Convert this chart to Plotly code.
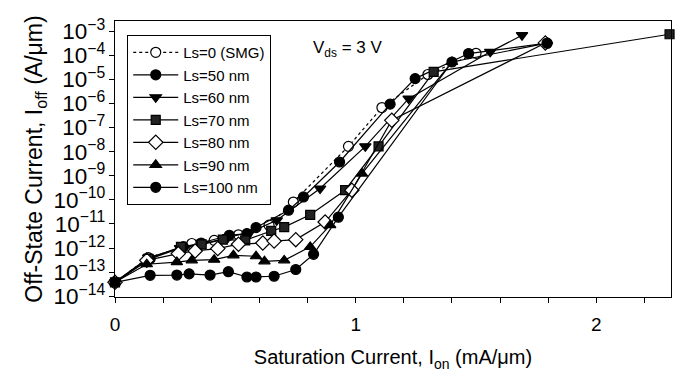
import plotly.graph_objects as go

# ---- data (x: Ion in mA/um, y: log10 of Ioff in A/um) ----
smg_x = [0, 0.138, 0.284, 0.319, 0.412, 0.513, 0.640, 0.741, 0.970, 1.109, 1.300, 1.500]
smg_y = [-13.42, -12.40, -11.95, -11.81, -11.68, -11.45, -11.05, -10.09, -7.78, -6.17, -4.80, -3.92]

ls50_x = [0, 0.146, 0.284, 0.358, 0.475, 0.548, 0.586, 0.721, 0.783, 0.933, 1.143, 1.247, 1.469, 1.795]
ls50_y = [-13.42, -12.45, -11.95, -11.79, -11.47, -11.40, -11.15, -10.43, -9.88, -8.43, -6.03, -4.97, -3.93, -3.50]

ls60_x = [0, 0.138, 0.270, 0.360, 0.470, 0.560, 0.672, 0.852, 1.040, 1.220, 1.559, 1.691]
ls60_y = [-13.42, -12.40, -12.00, -11.85, -11.55, -11.35, -10.85, -9.53, -7.78, -5.80, -3.86, -3.17]

ls70_x = [0, 0.138, 0.274, 0.360, 0.448, 0.541, 0.649, 0.703, 0.811, 0.956, 1.095, 1.324, 2.304]
ls70_y = [-13.42, -12.45, -11.95, -11.85, -11.65, -11.68, -11.29, -11.13, -10.62, -9.60, -7.78, -4.69, -3.13]

ls80_x = [0, 0.132, 0.263, 0.333, 0.427, 0.513, 0.614, 0.661, 0.751, 0.873, 0.984, 1.150, 1.788]
ls80_y = [-13.42, -12.51, -12.23, -12.12, -12.02, -11.84, -11.79, -11.71, -11.65, -10.92, -9.60, -6.70, -3.49]

ls90_x = [0, 0.132, 0.257, 0.319, 0.412, 0.492, 0.586, 0.621, 0.703, 0.811, 0.894, 1.026, 1.400]
ls90_y = [-13.42, -12.67, -12.58, -12.51, -12.48, -12.30, -12.34, -12.55, -12.51, -11.95, -11.05, -8.91, -4.28]

ls100_x = [0, 0.146, 0.257, 0.308, 0.395, 0.471, 0.548, 0.586, 0.661, 0.751, 0.825, 0.928, 1.400, 1.795]
ls100_y = [-13.42, -13.13, -13.12, -13.07, -13.12, -12.98, -13.20, -13.20, -13.17, -12.89, -12.26, -10.72, -4.28, -3.50]

names = ["Ls=0 (SMG)", "Ls=50 nm", "Ls=60 nm", "Ls=70 nm", "Ls=80 nm", "Ls=90 nm", "Ls=100 nm"]
xs = [smg_x, ls50_x, ls60_x, ls70_x, ls80_x, ls90_x, ls100_x]
ys = [smg_y, ls50_y, ls60_y, ls70_y, ls80_y, ls90_y, ls100_y]
symbols = ["circle", "circle", "triangle-down", "square", "diamond", "triangle-up", "circle"]
fills = ["white", "black", "black", "#222222", "white", "black", "black"]
sizes = [10, 10, 10, 9, 11, 10, 10]
dashes = ["dot", "solid", "solid", "solid", "solid", "solid", "solid"]

FONT = "Arial, Liberation Sans, Helvetica, sans-serif"

fig = go.Figure()
for n, x, y, s, f, sz, d in zip(names, xs, ys, symbols, fills, sizes, dashes):
    fig.add_trace(go.Scatter(
        x=x, y=[10 ** v for v in y], name=n, mode="lines+markers",
        line=dict(color="black", width=1.2, dash=d),
        marker=dict(symbol=s, size=sz, color=f, line=dict(color="black", width=1.2)),
        cliponaxis=False,
    ))

fig.update_layout(
    width=677, height=372,
    margin=dict(l=115, r=6, t=21, b=75),
    paper_bgcolor="white", plot_bgcolor="white",
    font=dict(family=FONT, color="black", size=16),
    showlegend=True,
    legend=dict(
        x=0.022, y=0.949, xanchor="left", yanchor="top",
        bordercolor="black", borderwidth=1, bgcolor="white",
        font=dict(family=FONT, size=15), tracegroupgap=0,
        itemwidth=45,
    ),
    annotations=[dict(
        text="V<sub>ds</sub> = 3 V", x=0.352, y=0.90, xref="paper", yref="paper",
        xanchor="left", yanchor="middle", showarrow=False,
        font=dict(family=FONT, size=17, color="black"),
    )],
)

fig.update_xaxes(
    range=[0, 2.31], dtick=1, tick0=0,
    ticks="outside", ticklen=5, tickwidth=1.2, tickcolor="black",
    showline=True, linecolor="black", linewidth=1.2, mirror=True,
    showgrid=False, zeroline=False,
    tickfont=dict(family=FONT, size=19), ticklabelstandoff=5,
    minor=dict(dtick=0.2, tick0=0, ticks="outside", ticklen=5, tickwidth=1.2, tickcolor="black", showgrid=False),
    title=dict(text="Saturation Current, I<sub>on</sub> (mA/μm)", font=dict(family=FONT, size=20), standoff=16),
)
fig.update_yaxes(
    type="log", range=[-14.03, -2.58], dtick=1,
    exponentformat="power",
    ticks="outside", ticklen=5, tickwidth=1.2, tickcolor="black",
    showline=True, linecolor="black", linewidth=1.2, mirror=True,
    showgrid=False, zeroline=False,
    tickfont=dict(family=FONT, size=18),
    title=dict(text="Off-State Current, I<sub>off</sub> (A/μm)", font=dict(family=FONT, size=23), standoff=4),
)

fig.write_html("out.html")
